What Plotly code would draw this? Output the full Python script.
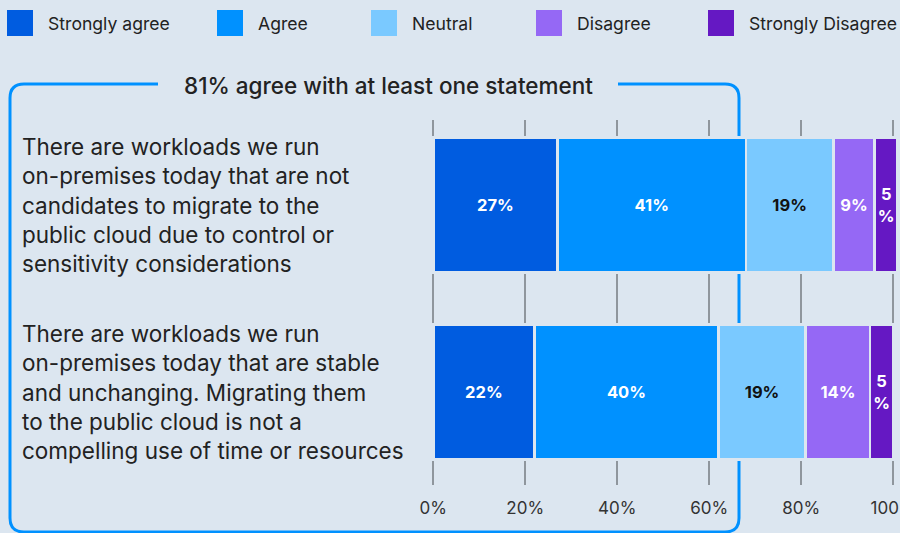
import plotly.graph_objects as go

# --- data -------------------------------------------------------------------
statements = [
    "There are workloads we run<br>on-premises today that are not<br>candidates to migrate to the<br>public cloud due to control or<br>sensitivity considerations",
    "There are workloads we run<br>on-premises today that are stable<br>and unchanging. Migrating them<br>to the public cloud is not a<br>compelling use of time or resources",
]
responses = ["Strongly agree", "Agree", "Neutral", "Disagree", "Strongly Disagree"]
strongly_agree = [27, 22]
agree = [41, 40]
neutral = [19, 19]
disagree = [9, 14]
strongly_disagree = [5, 5]
series_values = [strongly_agree, agree, neutral, disagree, strongly_disagree]
tick_values = [0, 20, 40, 60, 80, 100]
tick_labels = ["0%", "20%", "40%", "60%", "80%", "100%"]
headline = "81% agree with at least one statement"

# --- styling ----------------------------------------------------------------
BG = "#dce6f0"
INK = "#222222"
colors = ["#005ce0", "#0091ff", "#7ac9ff", "#9568f5", "#6518c3"]
label_colors = ["white", "white", "#111111", "white", "white"]
FONT = "Inter"

W_FIG, H_FIG = 900, 533
M_L, M_R, M_T, M_B = 431, 0, 120, 48
PW = W_FIG - M_L - M_R
PH = H_FIG - M_T - M_B


def px(x):
    return (x - M_L) / PW


def py(y):
    return 1 - (y - M_T) / PH


def bar_label(v):
    # narrow segments get the percent sign on its own line
    return f"{v}%" if v >= 7 else f"{v}<br>%"


fig = go.Figure()
for name, vals, col, lc in zip(responses, series_values, colors, label_colors):
    fig.add_trace(go.Bar(
        y=statements, x=vals, name=name, orientation="h",
        marker=dict(color=col, line=dict(color=BG, width=2.6)),
        text=[bar_label(v) for v in vals],
        textposition="inside", insidetextanchor="middle", textangle=0,
        constraintext="none",
        textfont=dict(color=lc, size=16.5, family=FONT, weight=700),
        hoverinfo="skip", showlegend=False,
    ))

annotations = []
shapes = []

# statement text to the left of each bar
for s in statements:
    annotations.append(dict(
        x=px(20), y=s, xref="paper", yref="y", text=s, showarrow=False,
        xanchor="left", yanchor="middle", align="left",
        font=dict(family=FONT, size=22.5, color=INK),
    ))

# legend row
legend_x = [7, 217, 371, 536, 708]
for name, col, lx in zip(responses, colors, legend_x):
    shapes.append(dict(
        type="rect", xref="paper", yref="paper",
        x0=px(lx), x1=px(lx + 26), y0=py(36), y1=py(10),
        fillcolor=col, line=dict(width=0), layer="above",
    ))
    annotations.append(dict(
        x=px(lx + 39), y=py(23), xref="paper", yref="paper", text=name,
        showarrow=False, xanchor="left", yanchor="middle",
        font=dict(family=FONT, size=17.6, color=INK),
    ))

# bracket box around the agree share
bx0, bx1, by0, by1, r = 10, 739, 84, 532, 14
path = (
    f"M{px(158)},{py(by0)} L{px(bx0 + r)},{py(by0)} "
    f"Q{px(bx0)},{py(by0)} {px(bx0)},{py(by0 + r)} "
    f"L{px(bx0)},{py(by1 - r)} Q{px(bx0)},{py(by1)} {px(bx0 + r)},{py(by1)} "
    f"L{px(bx1 - r)},{py(by1)} Q{px(bx1)},{py(by1)} {px(bx1)},{py(by1 - r)} "
    f"L{px(bx1)},{py(by0 + r)} Q{px(bx1)},{py(by0)} {px(bx1 - r)},{py(by0)} "
    f"L{px(618)},{py(by0)}"
)
shapes.append(dict(type="path", path=path, xref="paper", yref="paper",
                   line=dict(color="#0091ff", width=3), layer="below"))

annotations.append(dict(
    x=px(388), y=py(85), xref="paper", yref="paper", text=headline,
    showarrow=False, xanchor="center", yanchor="middle",
    font=dict(family=FONT, size=22.5, color=INK, weight=500),
))

fig.update_layout(
    width=W_FIG, height=H_FIG,
    margin=dict(l=M_L, r=M_R, t=M_T, b=M_B, pad=0, autoexpand=False),
    paper_bgcolor=BG, plot_bgcolor="rgba(0,0,0,0)",
    barmode="stack", bargap=0.28,
    showlegend=False,
    annotations=annotations, shapes=shapes,
    xaxis=dict(
        range=[-0.5, 101.5], tickvals=tick_values, ticktext=tick_labels,
        showgrid=True, gridcolor="#8f969d", gridwidth=2,
        zeroline=False, showline=False, ticks="",
        tickfont=dict(family=FONT, size=17, color="#333333"),
        ticklabelstandoff=11, ticklabeloverflow="allow",
        automargin=False, fixedrange=True,
    ),
    yaxis=dict(
        type="category", categoryorder="array", categoryarray=statements,
        range=[1.497, -0.455], showticklabels=False, showgrid=False,
        zeroline=False, automargin=False, fixedrange=True,
    ),
)

fig.write_html("out.html")
